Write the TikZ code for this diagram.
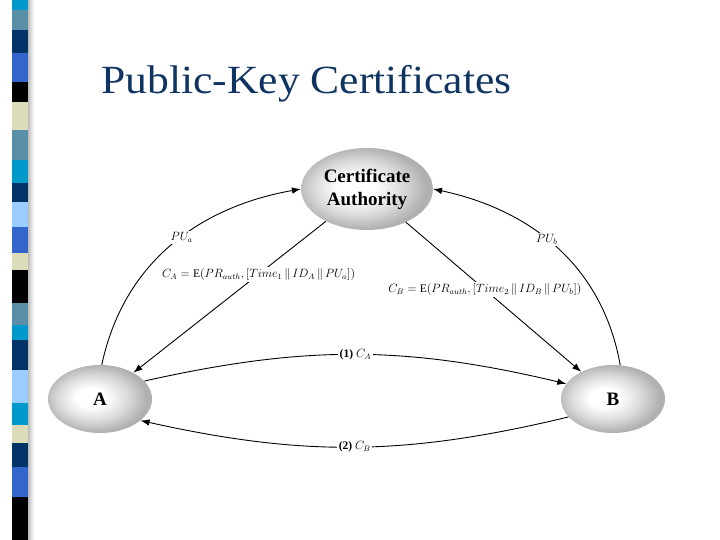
\documentclass[tikz,border=0pt]{standalone}
\usepackage{amsmath}
\usepackage{fontspec}
\setmainfont{Liberation Serif}
\usetikzlibrary{shapes.geometric,arrows.meta}

\definecolor{titleblue}{RGB}{16,52,98}
\definecolor{bcyan}{RGB}{0,153,204}
\definecolor{bsteel}{RGB}{90,143,168}
\definecolor{bnavy}{RGB}{0,51,102}
\definecolor{broyal}{RGB}{51,102,204}
\definecolor{bbeige}{RGB}{221,220,186}
\definecolor{blight}{RGB}{153,204,255}

\pgfdeclareradialshading{partyshade}{\pgfpoint{-5bp}{1bp}}{%
  color(0bp)=(white); color(7bp)=(white); color(17bp)=(gray!30);
  color(25bp)=(gray!62); color(50bp)=(gray!62)}

\tikzset{
  party/.style={ellipse, shading=partyshade,
                font=\fontsize{19}{23}\selectfont\bfseries, align=center},
  msg/.style={->, line width=0.9pt},
  tag/.style={fill=white, inner sep=1.5pt, font=\fontsize{11.5}{13}\selectfont}
}

\begin{document}
\begin{tikzpicture}[x=1pt, y=1pt, >={Latex[length=9pt,width=6.5pt]}]
  \useasboundingbox (0,0) rectangle (720,540);

  % Side strip
  \shade[left color=gray!60, right color=white] (27,0) rectangle (34,540);
  \foreach \ya/\yb/\col in {0/10/bcyan, 10/30/bsteel, 30/53/bnavy, 53/82/broyal,
      82/102/black, 102/130/bbeige, 130/160/bsteel, 160/183/bcyan,
      183/202/bnavy, 202/227/blight, 227/253/broyal, 253/270/bbeige,
      270/303/black, 303/325/bsteel, 325/340/bcyan, 340/370/bnavy,
      370/403/blight, 403/425/bcyan, 425/443/bbeige, 443/467/bnavy,
      467/497/broyal, 497/540/black}
    \fill[\col] (12,540-\ya) rectangle (28,540-\yb);

  % Title
  \node[anchor=base west, inner sep=0pt, text=titleblue, xscale=1.09,
        font=\fontsize{40}{48}\selectfont] (title) at (101,446) {Public-Key Certificates};

  % Parties
  \node[party, minimum width=120, minimum height=82] (ca) at (367,351) {Certificate\\Authority};
  \node[party, minimum width=104, minimum height=68] (a) at (100,141) {A};
  \node[party, minimum width=104, minimum height=68] (b) at (613,141) {B};

  % Public keys to the authority
  \draw[msg] (a.87) to[out=78, in=190]
    node[tag, pos=0.55] {$PU_a$} (ca.west);
  \draw[msg] (b.78) to[out=100, in=-12]
    node[tag, pos=0.55] {$PU_b$} (ca.east);

  % Certificates back to the parties
  \draw[msg] (ca) -- (a)
    node[tag, pos=0.35] {$C_A = \mathrm{E}(PR_{auth}, [Time_1 \,\|\, ID_A \,\|\, PU_a])$};
  \draw[msg] (ca) -- (b)
    node[tag, pos=0.45] {$C_B = \mathrm{E}(PR_{auth}, [Time_2 \,\|\, ID_B \,\|\, PU_b])$};

  % Exchange of certificates
  \draw[msg] (a.22) to[bend left=13]
    node[tag, pos=0.5] {\textbf{(1)} $C_A$} (b.162);
  \draw[msg] (b.-158) to[bend left=13]
    node[tag, pos=0.5] {\textbf{(2)} $C_B$} (a.-28);
\end{tikzpicture}
\end{document}
